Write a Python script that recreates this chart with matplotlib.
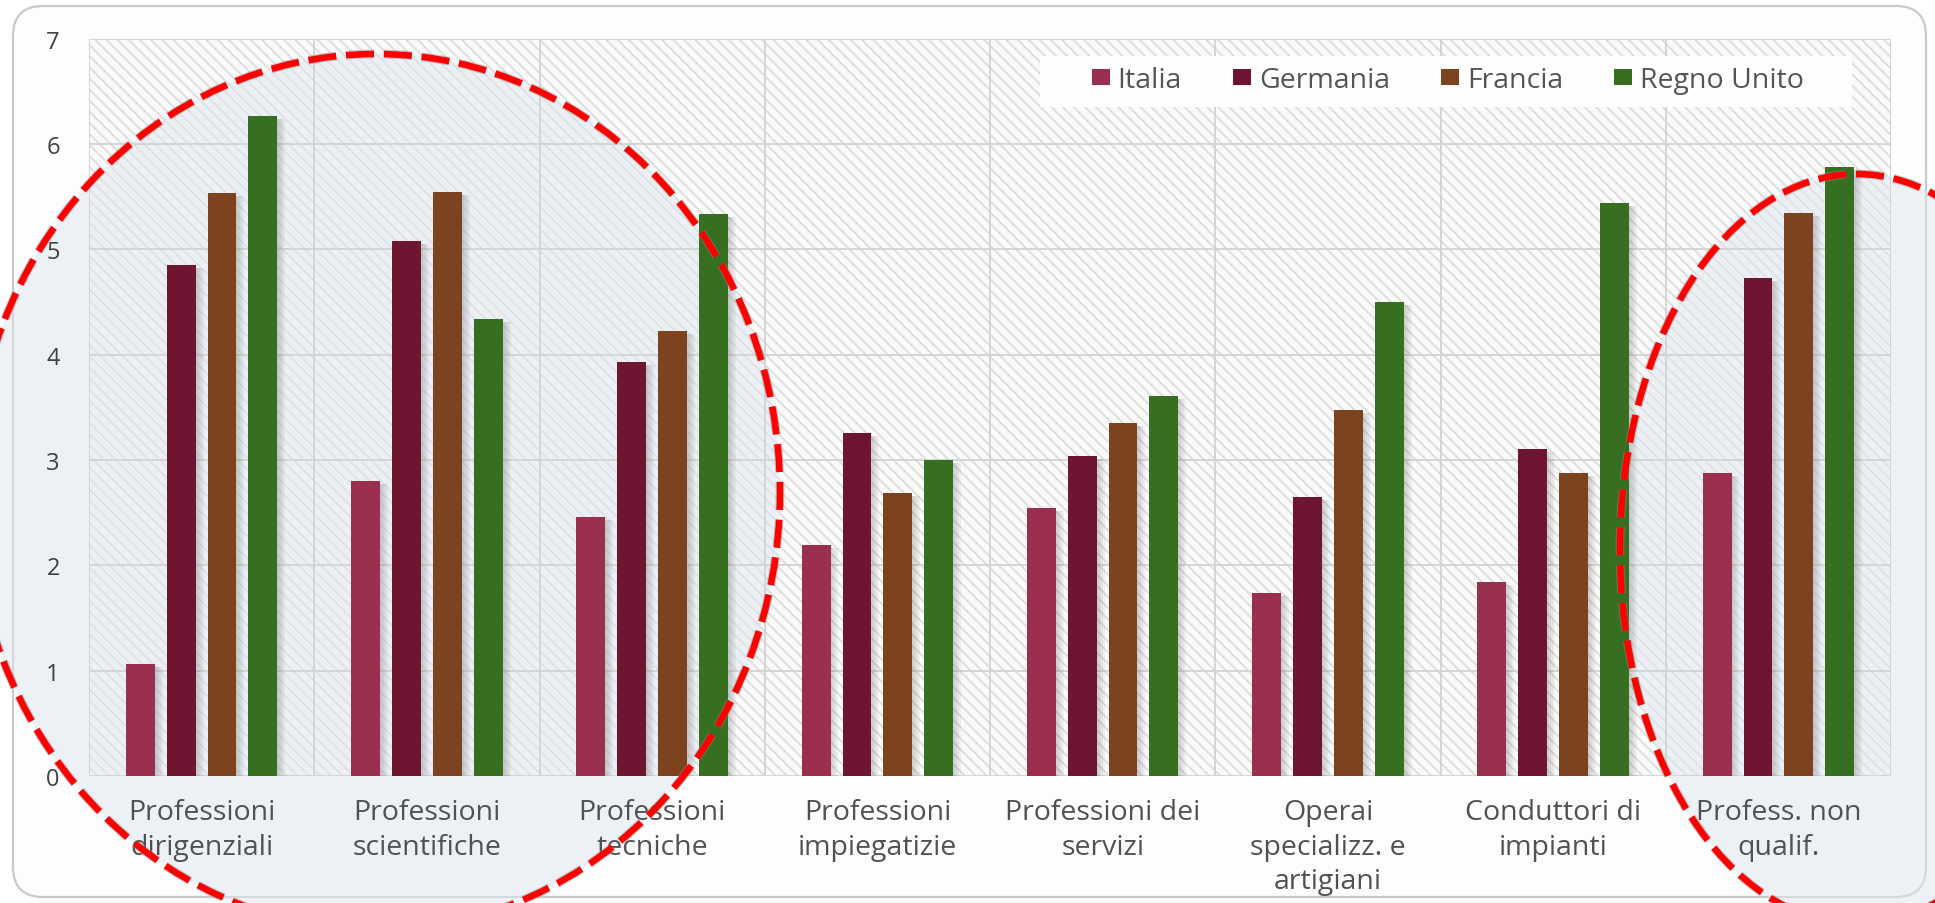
import numpy as np
import matplotlib
matplotlib.use("Agg")
import matplotlib.pyplot as plt
from matplotlib.patches import Ellipse, FancyBboxPatch, Rectangle
import matplotlib.patheffects as pe

# ---- data -------------------------------------------------------------
categories = [
    "Professioni\ndirigenziali",
    "Professioni\nscientifiche",
    "Professioni\ntecniche",
    "Professioni\nimpiegatizie",
    "Professioni dei\nservizi",
    "Operai\nspecializz. e\nartigiani",
    "Conduttori di\nimpianti",
    "Profess. non\nqualif.",
]
italia = [1.06, 2.80, 2.46, 2.19, 2.54, 1.74, 1.84, 2.88]
germania = [4.85, 5.08, 3.93, 3.26, 3.04, 2.65, 3.10, 4.73]
francia = [5.53, 5.54, 4.22, 2.69, 3.35, 3.47, 2.88, 5.34]
regno_unito = [6.26, 4.34, 5.33, 3.00, 3.61, 4.50, 5.44, 5.78]
series_names = ["Italia", "Germania", "Francia", "Regno Unito"]
y_ticks = [0, 1, 2, 3, 4, 5, 6, 7]

series = [italia, germania, francia, regno_unito]
colors = ["#9a2f4f", "#6e1531", "#7d431f", "#376f20"]

# ---- figure -----------------------------------------------------------
plt.rcParams["font.family"] = ["Open Sans", "DejaVu Sans"]
plt.rcParams["hatch.linewidth"] = 1.3

W, H = 1935, 904
fig = plt.figure(figsize=(W / 100, H / 100), dpi=100)
fig.patch.set_facecolor("white")

# rounded card behind the chart
card = FancyBboxPatch((13 / 100, 6 / 100), (1926 - 13) / 100, (897 - 6) / 100,
                      boxstyle="round,pad=0,rounding_size=0.3",
                      transform=fig.dpi_scale_trans,
                      facecolor="#fdfdfd", edgecolor="#c9c9c9", lw=1.6, zorder=-5)
fig.add_artist(card)

ax = fig.add_axes([89 / W, 1 - 777 / H, (1891 - 89) / W, (777 - 39.5) / H])
ax.set_zorder(1)
ax.set_facecolor("none")
for s in ax.spines.values():
    s.set_visible(False)

# hatched plotting area
ax.add_patch(Rectangle((0, 0), 1, 1, transform=ax.transAxes,
                       facecolor="#fafafa", edgecolor="#dddddd",
                       hatch="\\\\\\", lw=0, zorder=0))

ax.set_xlim(-0.5, len(categories) - 0.5)
ax.set_ylim(0, 7)
ax.set_yticks(y_ticks)
ax.set_xticks(np.arange(len(categories)))
ax.set_xticklabels(categories, fontsize=20.5, color="#515151", linespacing=1.3)
ax.set_xticks(np.arange(-0.5, len(categories), 1), minor=True)
ax.tick_params(axis="both", which="both", length=0)
ax.tick_params(axis="y", labelsize=17, labelcolor="#404040", pad=21)
ax.tick_params(axis="x", which="major", pad=16)
ax.set_axisbelow(True)
ax.yaxis.grid(True, color="#d3d3d3", lw=1.3)
ax.xaxis.grid(True, which="minor", color="#d3d3d3", lw=1.3)

# highlight ellipses (fill under the bars, dashed outline on top)
ellipses = [(376, 493, 404, 438), (1857, 550, 237, 375)]
for cx, cy, a, b in ellipses:
    kw = dict(xy=(cx / W, 1 - cy / H), width=2 * a / W, height=2 * b / H,
              transform=fig.transFigure)
    ax.add_patch(Ellipse(**kw, facecolor="#dfe5ee", alpha=0.5, lw=0,
                         clip_on=False, zorder=0.3))

# bars with a soft drop shadow
x = np.arange(len(categories))
pitch, width = 0.1814, 0.128
px_x, px_y = 1 / 226, 1 / 105.4
for i, (vals, col, name) in enumerate(zip(series, colors, series_names)):
    xs = x + (i - 1.5) * pitch
    vals = np.asarray(vals)
    for d in (2, 4, 6, 8):
        ax.bar(xs + d * px_x, vals - 3 * px_y, width, color="#5a5a5a",
               alpha=0.07, lw=0, zorder=2)
    ax.bar(xs, vals, width, color=col, lw=0, zorder=3, label=name)

for cx, cy, a, b in ellipses:
    kw = dict(xy=(cx / W, 1 - cy / H), width=2 * a / W, height=2 * b / H,
              transform=fig.transFigure)
    e = Ellipse(**kw, fill=False, edgecolor="#ff0000", lw=4.7,
                linestyle=(0, (4.3, 1.5)), clip_on=False, zorder=10)
    e.set_path_effects([pe.Stroke(linewidth=6.3, foreground="#8c8c8c", alpha=0.45),
                        pe.Normal()])
    ax.add_patch(e)

# legend on a white band
ax.add_patch(Rectangle(((1040 - 89) / 1802, (777 - 108) / 737.5), 812 / 1802, 51 / 737.5,
                       transform=ax.transAxes, facecolor="white", edgecolor="none",
                       alpha=0.95, zorder=4))
leg = ax.legend(loc="center left", bbox_to_anchor=((1092 - 89) / 1802, (777 - 81) / 737.5),
                ncol=4, frameon=False, fontsize=20.5, handlelength=0.62, handleheight=0.45,
                handletextpad=0.28, columnspacing=1.8, borderpad=0, borderaxespad=0)
leg.set_zorder(5)
for t in leg.get_texts():
    t.set_color("#555555")

fig.savefig("out.png", dpi=100, facecolor=fig.get_facecolor())
